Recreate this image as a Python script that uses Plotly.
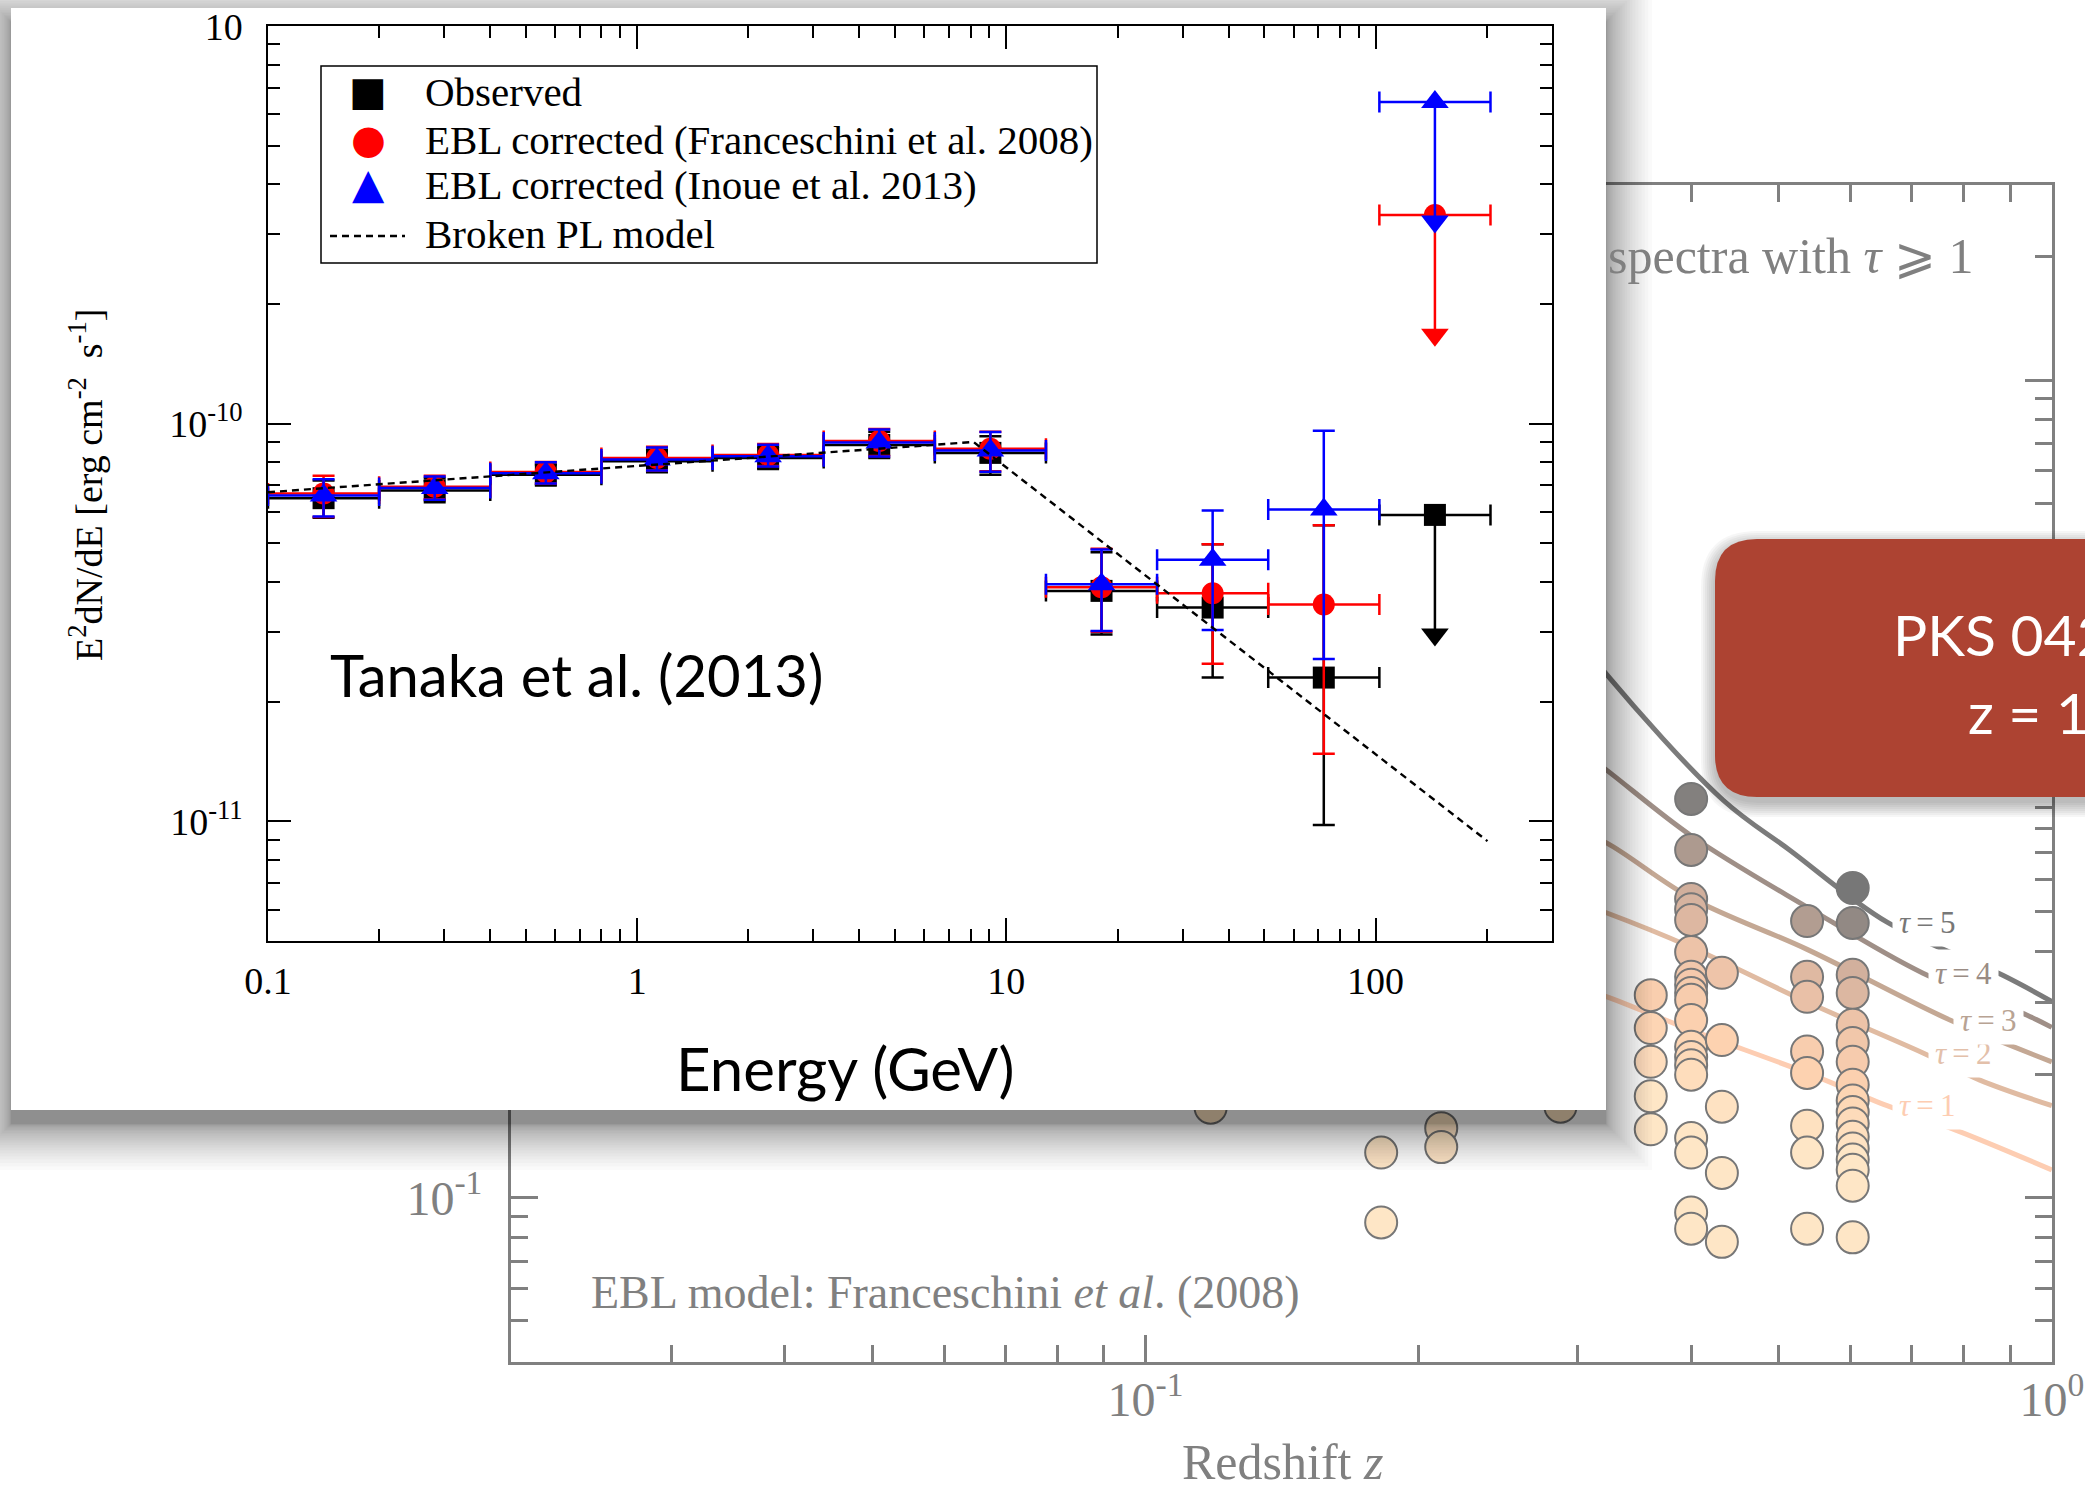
import numpy as np
import plotly.graph_objects as go

W, H = 2085, 1492


def X(px):
    """page pixel column -> paper fraction"""
    return px / W


def Y(py):
    """page pixel row (from top) -> paper fraction"""
    return 1 - py / H


# ------------------------------------------------------------------
# Inset: Fermi-LAT spectrum of PKS 0426-380 (Tanaka et al. 2013)
# ------------------------------------------------------------------
bin_lo = [0.1, 0.2, 0.4, 0.8, 1.6, 3.2, 6.4, 12.8, 25.6, 51.2, 102.4]   # GeV
bin_hi = [0.2, 0.4, 0.8, 1.6, 3.2, 6.4, 12.8, 25.6, 51.2, 102.4, 204.8]

# E^2 dN/dE in units of 1e-11 erg cm^-2 s^-1; ten detected bins + one upper limit
obs_flux = [6.50, 6.80, 7.45, 8.05, 8.20, 8.85, 8.45, 3.80, 3.45, 2.30]
obs_up = [7.20, 7.30, 7.90, 8.60, 8.75, 9.55, 9.30, 4.75, 4.98, 5.56]
obs_dn = [5.80, 6.35, 7.00, 7.55, 7.70, 8.20, 7.45, 2.95, 2.30, 0.98]
obs_ul = 5.90

fra_flux = [6.68, 6.95, 7.56, 8.20, 8.35, 9.05, 8.65, 3.88, 3.75, 3.51]
fra_up = [7.40, 7.40, 8.02, 8.75, 8.90, 9.70, 9.55, 4.85, 4.98, 5.56]
fra_dn = [5.83, 6.45, 7.08, 7.63, 7.83, 8.30, 7.60, 3.00, 2.49, 1.48]
fra_ul = 33.5

ino_flux = [6.60, 6.89, 7.51, 8.13, 8.29, 8.97, 8.57, 3.95, 4.55, 6.09]
ino_up = [7.25, 7.37, 8.00, 8.72, 8.86, 9.67, 9.53, 4.83, 6.05, 9.60]
ino_dn = [5.85, 6.44, 7.08, 7.63, 7.81, 8.28, 7.58, 3.01, 3.03, 2.56]
ino_ul = 64.5

ul_arrow_factor = 2.0   # upper-limit arrows point down by a factor of two

model_energy = [0.1, 8.15, 201.0]      # broken power law: start, break, end
model_flux = [6.73, 9.00, 0.892]

UNIT = 1e-11

# ------------------------------------------------------------------
# Background: gamma-ray horizon plot (EBL model: Franceschini et al. 2008)
# ------------------------------------------------------------------
tau_levels = [1, 2, 3, 4, 5]
tau1_z = [0.29, 0.323, 0.400, 0.537, 0.658, 0.786, 1.0]
tau1_E = [0.335, 0.310, 0.257, 0.202, 0.168, 0.146, 0.117]     # TeV
tau2_z = [0.29, 0.323, 0.400, 0.537, 0.721, 0.833, 1.0]
tau2_E = [0.54, 0.497, 0.410, 0.301, 0.226, 0.194, 0.168]
tau3_z = [0.29, 0.323, 0.400, 0.537, 0.772, 1.0]
tau3_E = [0.82, 0.737, 0.541, 0.405, 0.272, 0.215]
tau4_z = [0.29, 0.323, 0.401, 0.537, 0.721, 0.938, 1.0]
tau4_E = [1.33, 1.11, 0.765, 0.514, 0.354, 0.280, 0.261]
tau5_z = [0.29, 0.323, 0.434, 0.514, 0.658, 0.883, 1.0]
tau5_E = [2.60, 1.90, 0.938, 0.708, 0.472, 0.350, 0.302]

tau_colors = ["#fdcdb2", "#e0bba2", "#c4a894", "#9f8f87", "#7b7b7b"]

# highest-energy spectral points of blazars, grouped by redshift (TeV)
energies_z0118 = [0.166]
energies_z0182 = [0.129, 0.087]
energies_z0212 = [0.148, 0.133]
energies_z0287 = [0.167]
energies_z0361 = [0.313, 0.260, 0.215, 0.177, 0.147]
energies_z0400 = [0.945, 0.709, 0.538, 0.508, 0.478, 0.399, 0.347, 0.332, 0.317,
                  0.305, 0.272, 0.234, 0.221, 0.211, 0.200, 0.140, 0.129, 0.092, 0.084]
energies_z0433 = [0.355, 0.243, 0.167, 0.115, 0.078]
energies_z0537 = [0.475, 0.347, 0.310, 0.228, 0.202, 0.150, 0.129, 0.084]
energies_z0603 = [0.572, 0.470, 0.351, 0.317, 0.265, 0.239, 0.215, 0.189, 0.173,
                  0.162, 0.152, 0.141, 0.132, 0.124, 0.117, 0.107, 0.080]

source_columns = [
    (0.118, energies_z0118), (0.182, energies_z0182), (0.212, energies_z0212),
    (0.287, energies_z0287), (0.361, energies_z0361), (0.400, energies_z0400),
    (0.4325, energies_z0433), (0.537, energies_z0537), (0.603, energies_z0603),
]

tau_curves = [(tau1_z, tau1_E), (tau2_z, tau2_E), (tau3_z, tau3_E),
              (tau4_z, tau4_E), (tau5_z, tau5_E)]


def optical_depth(z, e):
    """tau of a point, interpolated between the drawn tau contours"""
    lz = np.log10(z)
    lv = [float(np.interp(lz, np.log10(zs), np.log10(es))) for zs, es in tau_curves]
    le = np.log10(e)
    if le <= lv[0]:
        return max(0.0, 1.0 - (lv[0] - le) / (lv[1] - lv[0]))
    if le >= lv[-1]:
        return 5.0
    return float(np.interp(le, lv, tau_levels))


pt_z, pt_E, pt_tau = [], [], []
for z, es in source_columns:
    for e in es:
        pt_z.append(z)
        pt_E.append(e)
        pt_tau.append(optical_depth(z, e))

fig = go.Figure()

# ---------------- background plot (subplot x/y) ----------------
for lev, (zs, es), col in zip(tau_levels, tau_curves, tau_colors):
    fig.add_trace(go.Scatter(x=zs, y=es, mode="lines", xaxis="x", yaxis="y",
                             line=dict(color=col, width=5, shape="spline", smoothing=1.0),
                             hoverinfo="skip", name=f"tau={lev}"))

fig.add_trace(go.Scatter(
    x=pt_z, y=pt_E, mode="markers", xaxis="x", yaxis="y", name="sources",
    marker=dict(size=32, color=pt_tau, cmin=0, cmax=5,
                colorscale=[[0.0, "#fee6c6"], [0.2, "#fdd2b0"], [0.4, "#ecc2a8"],
                            [0.6, "#d0af9c"], [0.8, "#a3948b"], [0.93, "#7b7b7b"],
                            [1.0, "#777777"]],
                line=dict(color="#777777", width=2)),
))

# ---------------- panel holding the inset (subplot x2/y2) ----------------
fig.add_trace(go.Scatter(x=[], y=[], xaxis="x2", yaxis="y2", showlegend=False))

# ---------------- inset spectrum (subplot x3/y3) ----------------
lo = np.array(bin_lo)
hi = np.array(bin_hi)
centers = np.sqrt(lo * hi)
ex_minus = centers - lo
ex_plus = hi - centers
n_det = len(obs_flux)


def add_series(name, flux, up, dn, ul, color, symbol, size):
    f = np.array(flux) * UNIT
    fig.add_trace(go.Scatter(
        x=centers[:n_det], y=f, mode="markers", name=name, xaxis="x3", yaxis="y3",
        marker=dict(symbol=symbol, size=size, color=color),
        error_y=dict(type="data", symmetric=False,
                     array=np.array(up) * UNIT - f, arrayminus=f - np.array(dn) * UNIT,
                     color=color, thickness=2.5, width=11),
        error_x=dict(type="data", symmetric=False,
                     array=ex_plus[:n_det], arrayminus=ex_minus[:n_det],
                     color=color, thickness=2.5, width=10.5),
    ))
    u = ul * UNIT
    fig.add_trace(go.Scatter(
        x=[centers[-1]], y=[u], mode="markers", name=name + " (upper limit)",
        xaxis="x3", yaxis="y3",
        marker=dict(symbol=symbol, size=size, color=color),
        error_y=dict(type="data", symmetric=False, array=[0],
                     arrayminus=[u - u / ul_arrow_factor],
                     color=color, thickness=2.5, width=0),
        error_x=dict(type="data", symmetric=False,
                     array=[ex_plus[-1]], arrayminus=[ex_minus[-1]],
                     color=color, thickness=2.5, width=10.5),
    ))
    fig.add_trace(go.Scatter(
        x=[centers[-1]], y=[u / ul_arrow_factor], mode="markers", xaxis="x3", yaxis="y3",
        name=name + " arrow", marker=dict(symbol="triangle-down", size=24, color=color),
    ))


add_series("Observed", obs_flux, obs_up, obs_dn, obs_ul, "#000000", "square", 22)
add_series("EBL corrected (Franceschini et al. 2008)", fra_flux, fra_up, fra_dn, fra_ul,
           "#ff0000", "circle", 22)
add_series("EBL corrected (Inoue et al. 2013)", ino_flux, ino_up, ino_dn, ino_ul,
           "#0000ff", "triangle-up", 24)

fig.add_trace(go.Scatter(
    x=model_energy, y=np.array(model_flux) * UNIT, mode="lines", name="Broken PL model",
    xaxis="x3", yaxis="y3", line=dict(color="black", width=2.4, dash="7px,5px"),
))

# ---------------- axes ----------------
SERIF = "Liberation Serif"
GREY = "#808080"


def log_minor(decades):
    return [m * 10.0 ** d for d in decades for m in range(2, 10)]


bg_axis = dict(showline=True, linecolor=GREY, linewidth=3, mirror="ticks",
               ticks="inside", tickcolor=GREY, tickwidth=2.5, ticklen=27,
               showgrid=False, zeroline=False, automargin=False,
               tickfont=dict(family=SERIF, size=48, color=GREY))

in_axis = dict(showline=True, linecolor="black", linewidth=1.5, mirror="ticks",
               ticks="inside", tickcolor="black", tickwidth=1.5, ticklen=23,
               showgrid=False, zeroline=False, automargin=False,
               tickfont=dict(family=SERIF, size=38, color="black"))

fig.update_layout(
    width=W, height=H,
    margin=dict(l=0, r=0, t=0, b=0, pad=0, autoexpand=False),
    paper_bgcolor="white",
    plot_bgcolor="rgba(0,0,0,0)",
    showlegend=False,
    xaxis=dict(bg_axis, type="log", domain=[X(511), X(2052)], range=[-1.7, 0.0002],
               anchor="y", tickmode="array", tickvals=[0.1, 1],
               ticktext=["10<sup>-1</sup>", "10<sup>0</sup>"], ticklabelstandoff=-6,
               minor=dict(ticks="inside", ticklen=17, tickwidth=2.5, tickcolor=GREY,
                          tickmode="array",
                          tickvals=[v for v in log_minor([-2, -1]) if v > 0.021])),
    yaxis=dict(bg_axis, type="log", domain=[Y(1361.7), Y(185)], range=[-1.401, 1.477],
               anchor="x", tickmode="array", tickvals=[0.1, 1, 10],
               ticktext=["10<sup>-1</sup>", "10<sup>0</sup>", "10<sup>1</sup>"],
               ticklabelstandoff=16,
               minor=dict(ticks="inside", ticklen=17, tickwidth=2.5, tickcolor=GREY,
                          tickmode="array",
                          tickvals=[v for v in log_minor([-2, -1, 0, 1]) if 0.041 < v < 29])),
    xaxis2=dict(domain=[0, X(1690)], range=[0, 1690], anchor="y2", visible=False,
                fixedrange=True, automargin=False),
    yaxis2=dict(domain=[Y(1200), 1], range=[1200, 0], anchor="x2", visible=False,
                fixedrange=True, automargin=False),
    xaxis3=dict(in_axis, type="log", domain=[X(268), X(1551.7)],
                range=[-1, np.log10(300)], anchor="y3", tickmode="array",
                tickvals=[0.1, 1, 10, 100], ticktext=["0.1", "1", "10", "100"],
                ticklabelstandoff=6,
                minor=dict(ticks="inside", ticklen=12, tickwidth=1.5, tickcolor="black",
                           tickmode="array",
                           tickvals=[v for v in log_minor([-1, 0, 1, 2]) if v < 290])),
    yaxis3=dict(in_axis, type="log", domain=[Y(941), Y(26)],
                range=[-11.3008, -8.9995], anchor="x3", tickmode="array",
                tickvals=[1e-11, 1e-10, 1e-9],
                ticktext=["10<sup>-11</sup>", "10<sup>-10</sup>", "10"],
                ticklabelstandoff=16,
                minor=dict(ticks="inside", ticklen=12, tickwidth=1.5, tickcolor="black",
                           tickmode="array",
                           tickvals=[v for v in log_minor([-12, -11, -10]) if v > 5.5e-12])),
)

# ---------------- decorations ----------------
shapes = []

# soft drop shadow of the inset panel (denser near the edge), then the panel itself
N_SHADOW = 26
for i in range(N_SHADOW):
    e = 46.0 * (i / (N_SHADOW - 1)) ** 2
    shapes.append(dict(type="rect", xref="x2", yref="y2", layer="below",
                       x0=11 - e, x1=1606 + e, y0=8 - e + 14, y1=1110 + e + 14,
                       fillcolor="black", opacity=0.021, line=dict(width=0)))
shapes.append(dict(type="rect", xref="x2", yref="y2", layer="below",
                   x0=11, x1=1606, y0=8, y1=1110,
                   fillcolor="white", line=dict(width=0)))

# legend frame and dashed key of the inset
shapes.append(dict(type="rect", xref="paper", yref="paper", layer="above",
                   x0=X(321), x1=X(1097), y0=Y(263), y1=Y(66),
                   line=dict(color="black", width=1.5), fillcolor="rgba(0,0,0,0)"))
shapes.append(dict(type="line", xref="paper", yref="paper", layer="above",
                   x0=X(330), x1=X(405), y0=Y(236), y1=Y(236),
                   line=dict(color="black", width=2.4, dash="7px,5px")))


def rounded_rect(x0, y0, x1, y1, r):
    return (f"M {X(x0 + r)},{Y(y0)} L {X(x1 - r)},{Y(y0)} "
            f"Q {X(x1)},{Y(y0)} {X(x1)},{Y(y0 + r)} L {X(x1)},{Y(y1 - r)} "
            f"Q {X(x1)},{Y(y1)} {X(x1 - r)},{Y(y1)} L {X(x0 + r)},{Y(y1)} "
            f"Q {X(x0)},{Y(y1)} {X(x0)},{Y(y1 - r)} L {X(x0)},{Y(y0 + r)} "
            f"Q {X(x0)},{Y(y0)} {X(x0 + r)},{Y(y0)} Z")


# source call-out box with its shadow
for i in range(8):
    e = 2 * i
    shapes.append(dict(type="path", xref="paper", yref="paper", layer="above",
                       path=rounded_rect(1715 - e, 539 - e + 6, 2200, 797 + e + 6, 42 + e),
                       fillcolor="black", opacity=0.035, line=dict(width=0)))
shapes.append(dict(type="path", xref="paper", yref="paper", layer="above",
                   path=rounded_rect(1715, 539, 2200, 797, 42),
                   fillcolor="#ad4332", line=dict(width=0)))

fig.update_layout(shapes=shapes)

# ---------------- text ----------------
ann = []


def text(x, y, s, size, color="black", family=SERIF, xanchor="left", **kw):
    ann.append(dict(x=X(x), y=Y(y), xref="paper", yref="paper", text=s,
                    showarrow=False, xanchor=xanchor, yanchor="middle",
                    font=dict(family=family, size=size, color=color), **kw))


# inset legend
legend_rows = [
    ("\u25a0", "#000000", 40, 91, "Observed"),
    ("\u25cf", "#ff0000", 40, 139, "EBL corrected (Franceschini et al. 2008)"),
    ("\u25b2", "#0000ff", 42, 184, "EBL corrected (Inoue et al. 2013)"),
]
for glyph, col, gsize, yy, label in legend_rows:
    text(368, yy, glyph, gsize, color=col, family="DejaVu Sans", xanchor="center")
    text(423, yy + 1, label, 41)
text(423, 234, "Broken PL model", 41)

text(328, 674, "Tanaka et al. (2013)", 58, family="Lato")
text(845, 1068, "Energy (GeV)", 60, family="Lato", xanchor="center")
text(86, 485, "E<sup>2</sup>dN/dE [erg cm<sup>-2</sup>  s<sup>-1</sup>]", 38,
     xanchor="center", textangle=-90)

# background plot labels
text(1606, 256, "spectra with <i>\u03c4</i> \u2a7e 1", 50, color=GREY)
text(589, 1292, "EBL model: Franceschini <i>et al</i>. (2008)", 46, color=GREY)
text(1282, 1462, "Redshift <i>z</i>", 50, color=GREY, xanchor="center")

tau_label_pos = [(1927, 1105), (1963, 1053), (1988, 1020), (1963, 973), (1927, 922)]
tau_text_colors = ["#fdcdb2", "#e3c0aa", "#b8a393", "#9a8c84", "#777777"]
for lev, (lx, ly), col in zip(tau_levels, tau_label_pos, tau_text_colors):
    text(lx, ly, f"<i>\u03c4</i>\u2009=\u2009{lev}", 31, color=col, xanchor="center",
         bgcolor="white", borderpad=6)

# call-out text
text(1891, 634, "PKS 0426-380", 57, color="white", family="Lato")
text(1966, 712, "z = 1.1", 57, color="white", family="Lato")

fig.update_layout(annotations=ann)

fig.write_html("out.html")
